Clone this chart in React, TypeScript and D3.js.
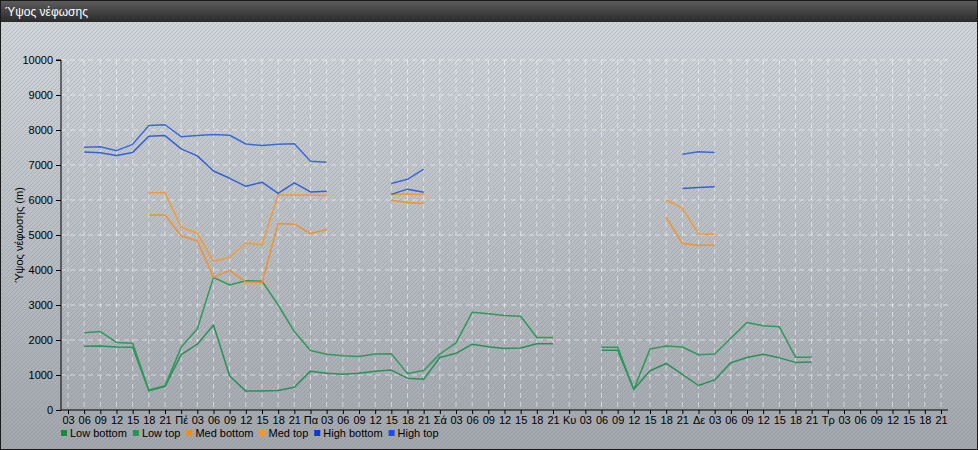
import { useRef, useEffect } from 'react';
import * as d3 from 'd3';

const _ = null;

const title = 'Ύψος νέφωσης';
const yTitle = 'Ύψος νέφωσης (m)';

const xLabels = [
  '03', '06', '09', '12', '15', '18', '21',
  'Πέ', '03', '06', '09', '12', '15', '18', '21',
  'Πα', '03', '06', '09', '12', '15', '18', '21',
  'Σά', '03', '06', '09', '12', '15', '18', '21',
  'Κυ', '03', '06', '09', '12', '15', '18', '21',
  'Δε', '03', '06', '09', '12', '15', '18', '21',
  'Τρ', '03', '06', '09', '12', '15', '18', '21',
];

const yTicks = [0, 1000, 2000, 3000, 4000, 5000, 6000, 7000, 8000, 9000, 10000];

const lowBottom = [
  _, 1820, 1830, 1800, 1790, 550, 670, 1580, 1880, 2430, 970,
  540, 540, 560, 650, 1110, 1050, 1020, 1050, 1110, 1140,
  910, 880, 1500, 1620, 1880, 1810, 1760, 1770, 1890, 1890,
  _, _, 1710, 1710, 590, 1120, 1330, 1020, 700, 860, 1350, 1500, 1590, 1490, 1360, 1370,
  _, _, _, _, _, _, _, _,
];

const lowTop = [
  _, 2210, 2240, 1930, 1910, 570, 690, 1790, 2320, 3790, 3570,
  3690, 3680, 3000, 2240, 1700, 1590, 1550, 1530, 1600, 1610,
  1040, 1130, 1600, 1920, 2790, 2750, 2700, 2680, 2070, 2070,
  _, _, 1790, 1790, 590, 1740, 1830, 1800, 1580, 1600, 2050, 2500, 2410, 2380, 1510, 1510,
  _, _, _, _, _, _, _, _,
];

const medBottom = [
  _, _, _, _, _,
  5570, 5570, 4980, 4830, 3790, 3990, 3660, 3640, 5330, 5310, 5040, 5160,
  _, _, _,
  5990, 5930, 5900,
  _, _, _, _, _, _, _, _, _, _, _, _, _, _,
  5510, 4760, 4710, 4710,
  _, _, _, _, _, _, _, _, _, _, _, _, _, _,
];

const medTop = [
  _, _, _, _, _,
  6210, 6210, 5230, 5050, 4250, 4360, 4770, 4720, 6140, 6140, 6140, 6130,
  _, _, _,
  6160, 6170, 6160,
  _, _, _, _, _, _, _, _, _, _, _, _, _, _,
  6000, 5770, 5030, 5020,
  _, _, _, _, _, _, _, _, _, _, _, _, _, _,
];

const highBottom = [
  _,
  7370, 7350, 7270, 7360, 7820, 7840, 7460, 7260, 6830, 6620, 6390, 6510, 6190, 6490, 6230, 6250,
  _, _, _,
  6160, 6310, 6220,
  _, _, _, _, _, _, _, _, _, _, _, _, _, _, _,
  6330, 6360, 6380,
  _, _, _, _, _, _, _, _, _, _, _, _, _, _,
];

const highTop = [
  _,
  7510, 7520, 7410, 7590, 8130, 8150, 7810, 7840, 7870, 7850, 7600, 7560, 7590, 7610, 7110, 7080,
  _, _, _,
  6470, 6590, 6880,
  _, _, _, _, _, _, _, _, _, _, _, _, _, _, _,
  7310, 7380, 7360,
  _, _, _, _, _, _, _, _, _, _, _, _, _, _,
];

const series = [
  { name: 'Low bottom', values: lowBottom, line: '#2b9058', swatch: '#178a3e' },
  { name: 'Low top', values: lowTop, line: '#2e9a5c', swatch: '#1f9a50' },
  { name: 'Med bottom', values: medBottom, line: '#f0922e', swatch: '#ff8a10' },
  { name: 'Med top', values: medTop, line: '#f29a38', swatch: '#ff9426' },
  { name: 'High bottom', values: highBottom, line: '#3462d6', swatch: '#0c3ad8' },
  { name: 'High top', values: highTop, line: '#3a6adc', swatch: '#1a4cf4' },
];

const W = 978;
const H = 450;
const FONT = '"Liberation Sans", Arial, sans-serif';

export default function App() {
  const svgRef = useRef<SVGSVGElement>(null);

  useEffect(() => {
    if (!svgRef.current) return;
    const svg = d3.select(svgRef.current);
    svg.selectAll('*').remove();

    const plot = { left: 61, right: 948, top: 60, bottom: 410 };

    const defs = svg.append('defs');
    const bg = defs.append('linearGradient').attr('id', 'bg').attr('x1', 0).attr('y1', 0).attr('x2', 0).attr('y2', 1);
    bg.append('stop').attr('offset', '0%').attr('stop-color', '#d5d8db');
    bg.append('stop').attr('offset', '100%').attr('stop-color', '#a3a7ab');
    const tb = defs.append('linearGradient').attr('id', 'tb').attr('x1', 0).attr('y1', 0).attr('x2', 0).attr('y2', 1);
    tb.append('stop').attr('offset', '0%').attr('stop-color', '#5e5e5e');
    tb.append('stop').attr('offset', '100%').attr('stop-color', '#2a2a2a');
    const hatch = defs.append('pattern')
      .attr('id', 'hatch')
      .attr('patternUnits', 'userSpaceOnUse')
      .attr('width', 4)
      .attr('height', 4);
    hatch.append('path')
      .attr('d', 'M-1,1 l2,-2 M0,4 l4,-4 M3,5 l2,-2')
      .attr('stroke', 'rgba(105,125,155,0.28)')
      .attr('stroke-width', 1);

    // background
    svg.append('rect').attr('width', W).attr('height', H).attr('fill', 'url(#bg)');
    svg.append('rect').attr('width', W).attr('height', H).attr('fill', 'url(#hatch)');

    // title bar
    svg.append('rect').attr('width', W).attr('height', 22).attr('fill', 'url(#tb)');
    svg.append('text')
      .attr('x', 5)
      .attr('y', 16)
      .attr('fill', '#ffffff')
      .attr('font-family', FONT)
      .attr('font-size', '12px')
      .text(title);

    // frame
    svg.append('rect')
      .attr('x', 0.5).attr('y', 0.5)
      .attr('width', W - 1).attr('height', H - 1)
      .attr('fill', 'none')
      .attr('stroke', '#1a1a1a');

    const x = d3.scaleLinear().domain([0, xLabels.length - 1]).range([68, 941]);
    const y = d3.scaleLinear().domain([0, 10000]).range([plot.bottom, plot.top]);

    const g = svg.append('g');

    // grid
    g.selectAll('.hgrid')
      .data(yTicks.slice(1))
      .enter()
      .append('line')
      .attr('x1', plot.left)
      .attr('x2', plot.right)
      .attr('y1', d => y(d))
      .attr('y2', d => y(d))
      .attr('stroke', 'rgba(255,255,255,0.55)')
      .attr('stroke-dasharray', '5,4');

    g.selectAll('.vgrid')
      .data(xLabels.map((_, i) => i))
      .enter()
      .append('line')
      .attr('x1', d => x(d))
      .attr('x2', d => x(d))
      .attr('y1', plot.top)
      .attr('y2', plot.bottom)
      .attr('stroke', 'rgba(255,255,255,0.5)')
      .attr('stroke-dasharray', '5,4');

    // lines
    const line = d3.line<number | null>()
      .defined(d => d != null)
      .x((_, i) => x(i))
      .y(d => y(d as number));

    series.forEach(s => {
      g.append('path')
        .attr('d', line(s.values))
        .attr('fill', 'none')
        .attr('stroke', s.line)
        .attr('stroke-width', 1.5)
        .attr('stroke-linejoin', 'round');
    });

    // y axis
    g.append('g')
      .attr('transform', `translate(${plot.left},0)`)
      .call(d3.axisLeft(y).tickValues(yTicks).tickSize(5).tickPadding(3).tickFormat(d => `${d}`))
      .call(a => a.select('.domain').attr('stroke', '#000').attr('d', `M-5,${plot.top}H0V${plot.bottom}`))
      .call(a => a.selectAll('.tick line').attr('stroke', '#000'))
      .call(a => a.selectAll('.tick text')
        .attr('fill', '#000')
        .attr('font-family', FONT)
        .attr('font-size', '11px'));

    // x axis
    g.append('g')
      .attr('transform', `translate(0,${plot.bottom})`)
      .call(d3.axisBottom(x).tickValues(xLabels.map((_, i) => i)).tickSize(4).tickPadding(2).tickFormat(d => xLabels[d as number]))
      .call(a => a.select('.domain').attr('stroke', '#000').attr('d', `M${plot.left},0H${plot.right}`))
      .call(a => a.selectAll('.tick line').attr('stroke', '#000'))
      .call(a => a.selectAll('.tick text')
        .attr('fill', '#000')
        .attr('font-family', FONT)
        .attr('font-size', '11px'));

    // y title
    svg.append('text')
      .attr('transform', `translate(23,${(plot.top + plot.bottom) / 2}) rotate(-90)`)
      .attr('text-anchor', 'middle')
      .attr('fill', '#000')
      .attr('font-family', FONT)
      .attr('font-size', '11px')
      .text(yTitle);

    // legend
    const legend = svg.append('g').attr('transform', 'translate(61,433)');
    let lx = 0;
    series.forEach(s => {
      const item = legend.append('g').attr('transform', `translate(${lx},0)`);
      item.append('rect')
        .attr('x', 0).attr('y', -3)
        .attr('width', 6).attr('height', 6)
        .attr('fill', s.swatch);
      const t = item.append('text')
        .attr('x', 9)
        .attr('y', 4)
        .attr('fill', '#000')
        .attr('font-family', FONT)
        .attr('font-size', '11px')
        .text(s.name);
      const w = (t.node() as SVGTextElement).getComputedTextLength();
      lx += 9 + w + 6;
    });
  }, []);

  return (
    <svg
      ref={svgRef}
      width={W}
      height={H}
      style={{ position: 'absolute', left: 0, top: 0, display: 'block' }}
    />
  );
}
